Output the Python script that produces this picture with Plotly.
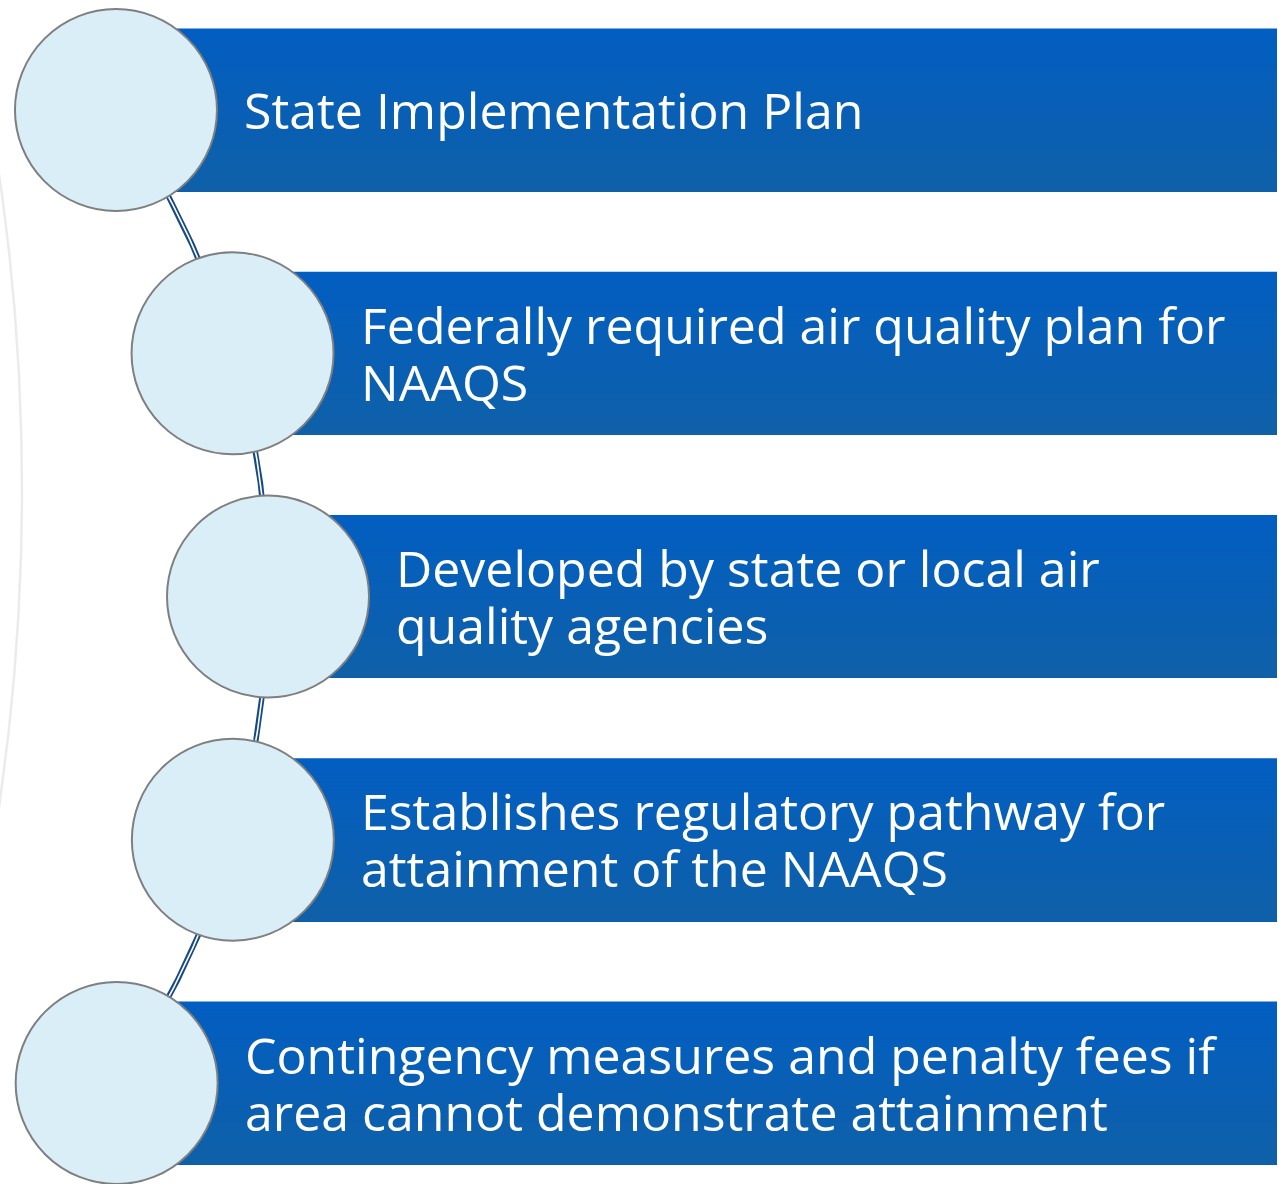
import numpy as np
import plotly.graph_objects as go

# ---- content ----
steps = [
    "State Implementation Plan",
    "Federally required air quality plan for<br>NAAQS",
    "Developed by state or local air<br>quality agencies",
    "Establishes regulatory pathway for<br>attainment of the NAAQS",
    "Contingency measures and penalty fees if<br>area cannot demonstrate attainment",
]

# ---- styles / layout ----
W, H = 1279, 1184
BAR_TOP = "#025EC1"
BAR_BOT = "#0F60A8"
CIRCLE_FILL = "#DAEEF7"
CIRCLE_LINE = "#7F7F7F"
CONN = "#174A82"
FONT = "Open Sans"
FS = 50
LINE_GAP = 57

arc_cx, arc_cy, arc_r = -588.0, 597.0, 856.0
row0, row_step = 110.0, 243.25
circ_r = 101.0
bar_half = 81.5
text_off = 126.0
bar_right = 1277

n = len(steps)
rows_y = [row0 + i * row_step for i in range(n)]
rows_x = [arc_cx + np.sqrt(arc_r**2 - (y - arc_cy) ** 2) for y in rows_y]


def mix(c1, c2, t):
    a = [int(c1[i:i + 2], 16) for i in (1, 3, 5)]
    b = [int(c2[i:i + 2], 16) for i in (1, 3, 5)]
    return "rgb(%d,%d,%d)" % tuple(round(a[k] + (b[k] - a[k]) * t) for k in range(3))


fig = go.Figure()
shapes = []
annotations = []

# bars with vertical gradient (overlapping stripes, no seams)
NS = 40
for cx, cy in zip(rows_x, rows_y):
    y0 = cy - bar_half
    y1 = cy + bar_half
    hgt = 2 * bar_half
    for s in range(NS):
        t = s / (NS - 1)
        shapes.append(dict(type="rect", xref="x", yref="y",
                           x0=cx, x1=bar_right, y0=y0 + hgt * s / NS, y1=y1,
                           fillcolor=mix(BAR_TOP, BAR_BOT, t), line=dict(width=0), layer="below"))

# faint background arc on the left
th = np.linspace(-0.16, 0.16, 200)
fr, fcx, fcy = 2195.0, -2173.0, 490.0
fig.add_trace(go.Scatter(x=fcx + fr * np.cos(th), y=fcy + fr * np.sin(th), mode="lines",
                         line=dict(color="#EBEBEB", width=2.5), hoverinfo="skip", showlegend=False))

# connector arc (double line)
a0 = np.arctan2(rows_y[0] - arc_cy, rows_x[0] - arc_cx)
a1 = np.arctan2(rows_y[-1] - arc_cy, rows_x[-1] - arc_cx)
ta = np.linspace(a0, a1, 400)
ax_ = arc_cx + arc_r * np.cos(ta)
ay_ = arc_cy + arc_r * np.sin(ta)
fig.add_trace(go.Scatter(x=ax_, y=ay_, mode="lines", line=dict(color=CONN, width=5.5),
                         hoverinfo="skip", showlegend=False))
fig.add_trace(go.Scatter(x=ax_, y=ay_, mode="lines", line=dict(color="white", width=1.6),
                         hoverinfo="skip", showlegend=False))

# circles
for cx, cy in zip(rows_x, rows_y):
    shapes.append(dict(type="circle", xref="x", yref="y",
                       x0=cx - circ_r, x1=cx + circ_r, y0=cy - circ_r, y1=cy + circ_r,
                       fillcolor=CIRCLE_FILL, line=dict(color=CIRCLE_LINE, width=2), layer="above"))

# text
for label, cx, cy in zip(steps, rows_x, rows_y):
    lines = label.split("<br>")
    k = len(lines)
    for j, ln in enumerate(lines):
        ly = cy + (j - (k - 1) / 2) * LINE_GAP
        annotations.append(dict(x=cx + text_off, y=ly, xref="x", yref="y", text=ln,
                                showarrow=False, xanchor="left", yanchor="middle",
                                font=dict(family=FONT, size=FS, color="white")))

fig.update_layout(
    width=W, height=H,
    margin=dict(l=0, r=0, t=0, b=0),
    paper_bgcolor="white", plot_bgcolor="white",
    xaxis=dict(range=[0, W], visible=False, fixedrange=True),
    yaxis=dict(range=[H, 0], visible=False, fixedrange=True),
    shapes=shapes, annotations=annotations, showlegend=False,
)

fig.write_html("out.html", config={"displayModeBar": False},
               post_script="document.body.style.margin='0';document.body.style.overflow='hidden';")
